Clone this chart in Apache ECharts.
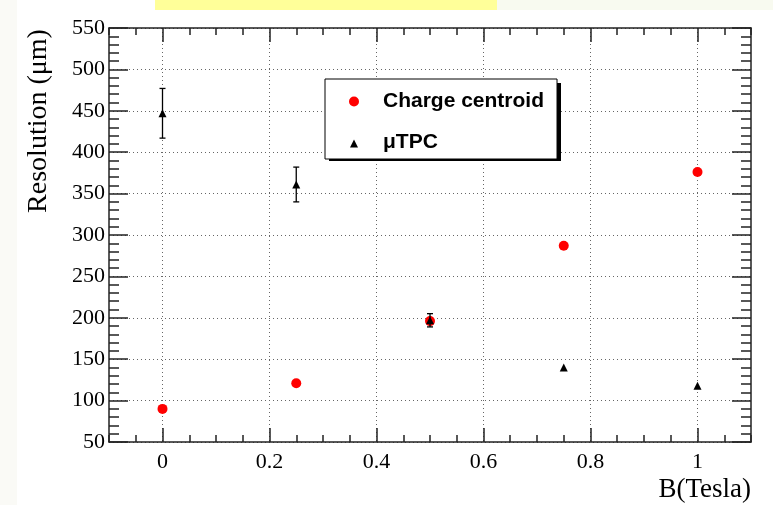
<!DOCTYPE html>
<html>
<head>
<meta charset="utf-8">
<script src="https://cdn.jsdelivr.net/npm/echarts@6/dist/echarts.min.js"></script>
<style>
  html, body { margin: 0; padding: 0; background: #fff; }
  #chart { width: 773px; height: 505px; }
</style>
</head>
<body>
<div id="chart"></div>
<script>
// B field (Tesla) and resolution (um)
const bField = [0, 0.25, 0.5, 0.75, 1]
const centroid = [90, 121, 196, 287, 376]
const utpc = [447, 361, 197, 140, 118]
const utpcErr = [30, 21, 8, 0, 0]
const xMajor = [0, 0.2, 0.4, 0.6, 0.8, 1]

const serif = 'Liberation Serif'
const frame = '#222'
// small triangle padded to the 48x10 legend icon box so it is not stretched
const legendTriangle = 'path://M0,10L0,10M20,10L24,2L28,10ZM48,0L48,0'

const chart = echarts.init(document.getElementById('chart'))

const dotted = { show: true, lineStyle: { color: '#666', width: 1, type: [1, 3] } }

// x axes: major (with labels / grid) + minor ticks, on bottom and top
const majorX = (pos, withLabels) => ({
  type: 'value',
  position: pos,
  min: -0.1,
  max: 1.1,
  axisLine: { show: true, onZero: false, lineStyle: { color: frame, width: 1.5 } },
  axisTick: { show: true, inside: true, length: 14, customValues: xMajor, lineStyle: { color: frame, width: 1.5 } },
  axisLabel: withLabels
    ? { show: true, customValues: xMajor, margin: 9, fontFamily: serif, fontSize: 22, color: '#000' }
    : { show: false },
  splitLine: withLabels ? dotted : { show: false }
})
const minorX = (pos) => ({
  type: 'value',
  position: pos,
  min: -0.1,
  max: 1.1,
  interval: 0.05,
  axisLine: { show: false, onZero: false },
  axisTick: { show: true, inside: true, length: 7, lineStyle: { color: frame, width: 1.5 } },
  axisLabel: { show: false },
  splitLine: { show: false }
})

const yAxisBase = (pos, withLabels) => ({
  type: 'value',
  position: pos,
  min: 50,
  max: 550,
  interval: 50,
  axisLine: { show: true, onZero: false, lineStyle: { color: frame, width: 1.5 } },
  axisTick: { show: true, inside: true, length: 19, lineStyle: { color: frame, width: 1.5 } },
  minorTick: { show: true, splitNumber: 5, length: 10, lineStyle: { color: frame, width: 1.5 } },
  axisLabel: withLabels
    ? { show: true, margin: 4, fontFamily: serif, fontSize: 22, color: '#000' }
    : { show: false },
  splitLine: withLabels ? dotted : { show: false }
})

const errData = bField
  .map((b, i) => [b, utpc[i] - utpcErr[i], utpc[i] + utpcErr[i]])
  .filter((d, i) => utpcErr[i] > 0)

const option = {
  backgroundColor: '#fff',
  animation: false,
  graphic: [
    { type: 'rect', left: 0, top: 0, shape: { width: 17, height: 505 }, style: { fill: '#fafaf6' }, silent: true },
    { type: 'rect', left: 497, top: 0, shape: { width: 276, height: 10 }, style: { fill: '#f8faf0' }, silent: true },
    { type: 'rect', left: 155, top: 0, shape: { width: 342, height: 10 }, style: { fill: '#ffff99' }, silent: true },
    // legend drop shadow
    { type: 'rect', left: 329, top: 83, shape: { width: 232, height: 78 }, style: { fill: '#000' }, silent: true, z: 3 }
  ],
  grid: { left: 109, right: 22, top: 28, bottom: 63, containLabel: false, outerBoundsMode: 'none' },
  legend: {
    orient: 'vertical',
    left: 325,
    top: 79,
    padding: [12, 13, 6, 5],
    itemWidth: 48,
    itemHeight: 10,
    itemGap: 20,
    backgroundColor: '#fff',
    borderColor: '#000',
    borderWidth: 1,
    selectedMode: false,
    z: 6,
    textStyle: { fontFamily: 'Liberation Sans', fontWeight: 'bold', fontSize: 21, color: '#000' },
    data: [
      { name: 'Charge centroid', icon: 'circle' },
      { name: 'μTPC', icon: legendTriangle }
    ]
  },
  xAxis: [
    Object.assign(majorX('bottom', true), {
      name: 'B(Tesla)',
      nameLocation: 'end',
      nameGap: 0,
      nameMoveOverlap: false,
      nameTextStyle: { fontFamily: serif, fontSize: 27, color: '#000', align: 'right', verticalAlign: 'top', padding: [34, 0, 0, 0] }
    }),
    minorX('bottom'),
    majorX('top', false),
    minorX('top')
  ],
  yAxis: [
    Object.assign(yAxisBase('left', true), {
      name: 'Resolution (μm)',
      nameLocation: 'middle',
      nameGap: 56,
      nameMoveOverlap: false,
      nameTextStyle: { fontFamily: serif, fontSize: 28, color: '#000', padding: [0, 0, 0, 228] }
    }),
    yAxisBase('right', false)
  ],
  series: [
    {
      name: 'Charge centroid',
      type: 'scatter',
      symbol: 'circle',
      symbolSize: 10,
      itemStyle: { color: '#ff0000', opacity: 1 },
      data: bField.map((b, i) => [b, centroid[i]]),
      z: 3
    },
    {
      name: 'utpcErr',
      type: 'custom',
      renderItem: (params, api) => {
        const x = api.value(0)
        const top = api.coord([x, api.value(2)])
        const bot = api.coord([x, api.value(1)])
        const cap = 3
        const style = { stroke: '#000', lineWidth: 1.3 }
        return {
          type: 'group',
          children: [
            { type: 'line', shape: { x1: top[0], y1: top[1], x2: bot[0], y2: bot[1] }, style },
            { type: 'line', shape: { x1: top[0] - cap, y1: top[1], x2: top[0] + cap, y2: top[1] }, style },
            { type: 'line', shape: { x1: bot[0] - cap, y1: bot[1], x2: bot[0] + cap, y2: bot[1] }, style }
          ]
        }
      },
      encode: { x: 0, y: [1, 2] },
      data: errData,
      z: 4
    },
    {
      name: 'μTPC',
      type: 'scatter',
      symbol: 'triangle',
      symbolSize: 8,
      itemStyle: { color: '#000', opacity: 1 },
      data: bField.map((b, i) => [b, utpc[i]]),
      z: 5
    }
  ]
}

chart.setOption(option)
</script>
</body>
</html>
